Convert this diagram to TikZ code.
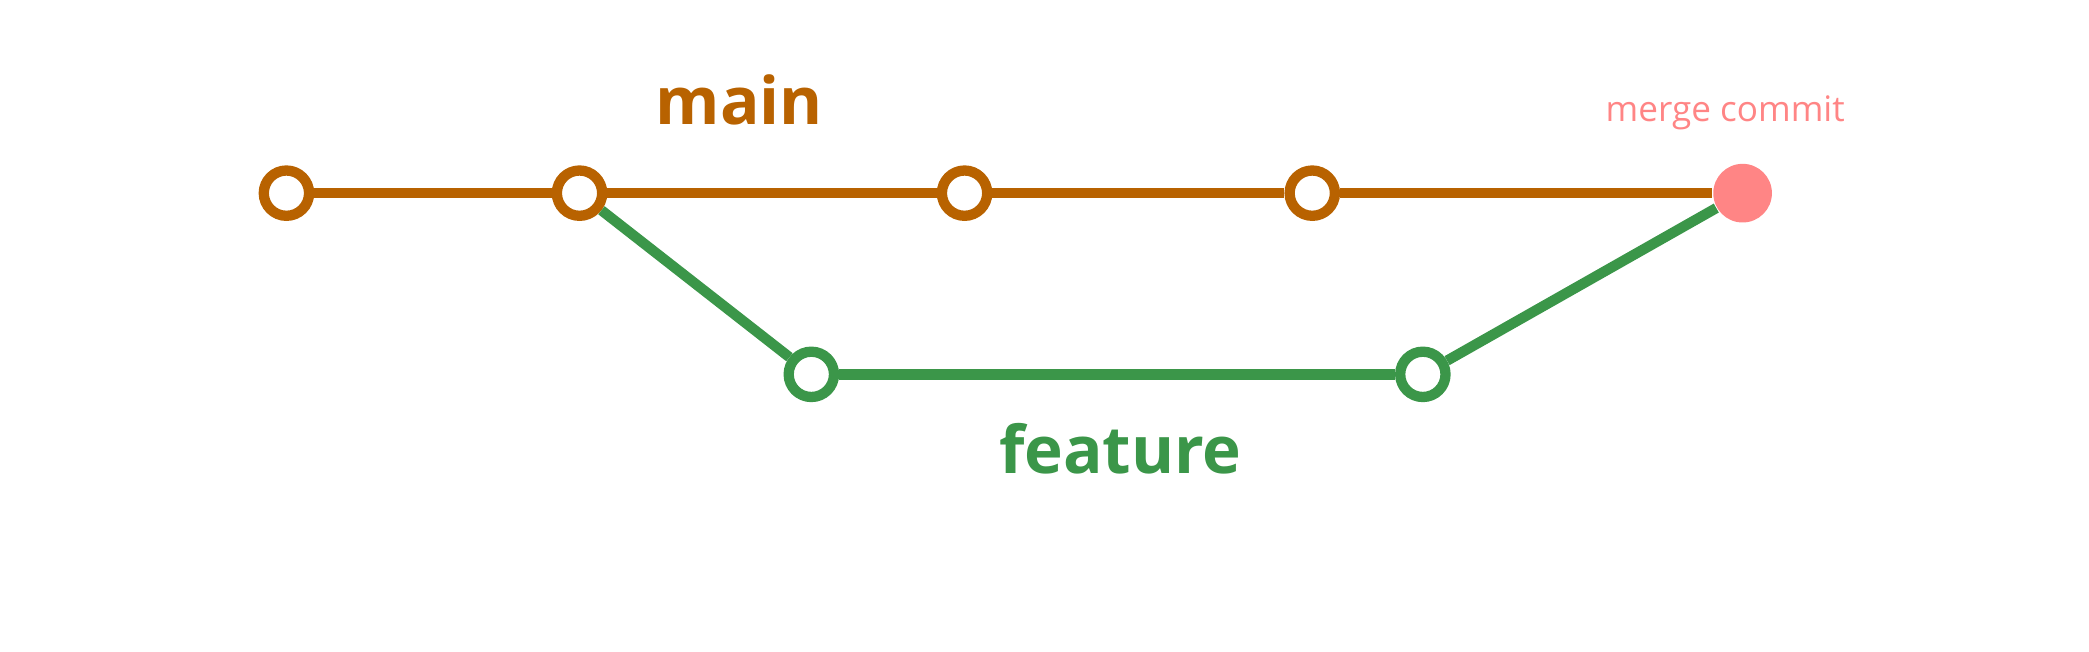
\documentclass[tikz,border=0pt]{standalone}
\usepackage{fontspec}
\setmainfont{Open Sans}
\definecolor{mainc}{HTML}{B86200}
\definecolor{featc}{HTML}{3B9649}
\definecolor{mergec}{HTML}{FF8585}
\begin{document}
\begin{tikzpicture}[x=0.01cm, y=-0.01cm,
                    commit/.style={circle,draw,fill=white,line width=2.2pt,minimum size=0.34cm,inner sep=0pt},
                    branch/.style={line width=2.2pt}]
  \useasboundingbox (0,0) rectangle (1568,489);

  \node[commit,draw=mainc] (m1) at (215,145) {};
  \node[commit,draw=mainc] (m2) at (435,145) {};
  \node[commit,draw=mainc] (m3) at (724,145) {};
  \node[commit,draw=mainc] (m4) at (985,145) {};
  \node[circle,fill=mergec,minimum size=0.44cm,inner sep=0pt] (mc) at (1308,145) {};
  \node[commit,draw=featc] (f1) at (609,281) {};
  \node[commit,draw=featc] (f2) at (1068,281) {};

  \node[text=mainc,font=\fontsize{14}{16}\selectfont\bfseries] (mainlbl) at (555,75) {main};
  \node[text=featc,font=\fontsize{14}{16}\selectfont\bfseries] (featlbl) at (841,337) {feature};
  \node[text=mergec,font=\fontsize{7.5}{9}\selectfont] (mergelbl) at (1295,85) {merge commit};

  \path[branch,draw=mainc]
    (m1) edge (m2)
    (m2) edge (m3)
    (m3) edge (m4)
    (m4) edge (mc);
  \path[branch,draw=featc]
    (m2) edge (f1)
    (f1) edge (f2)
    (f2) edge (mc);
\end{tikzpicture}
\end{document}
